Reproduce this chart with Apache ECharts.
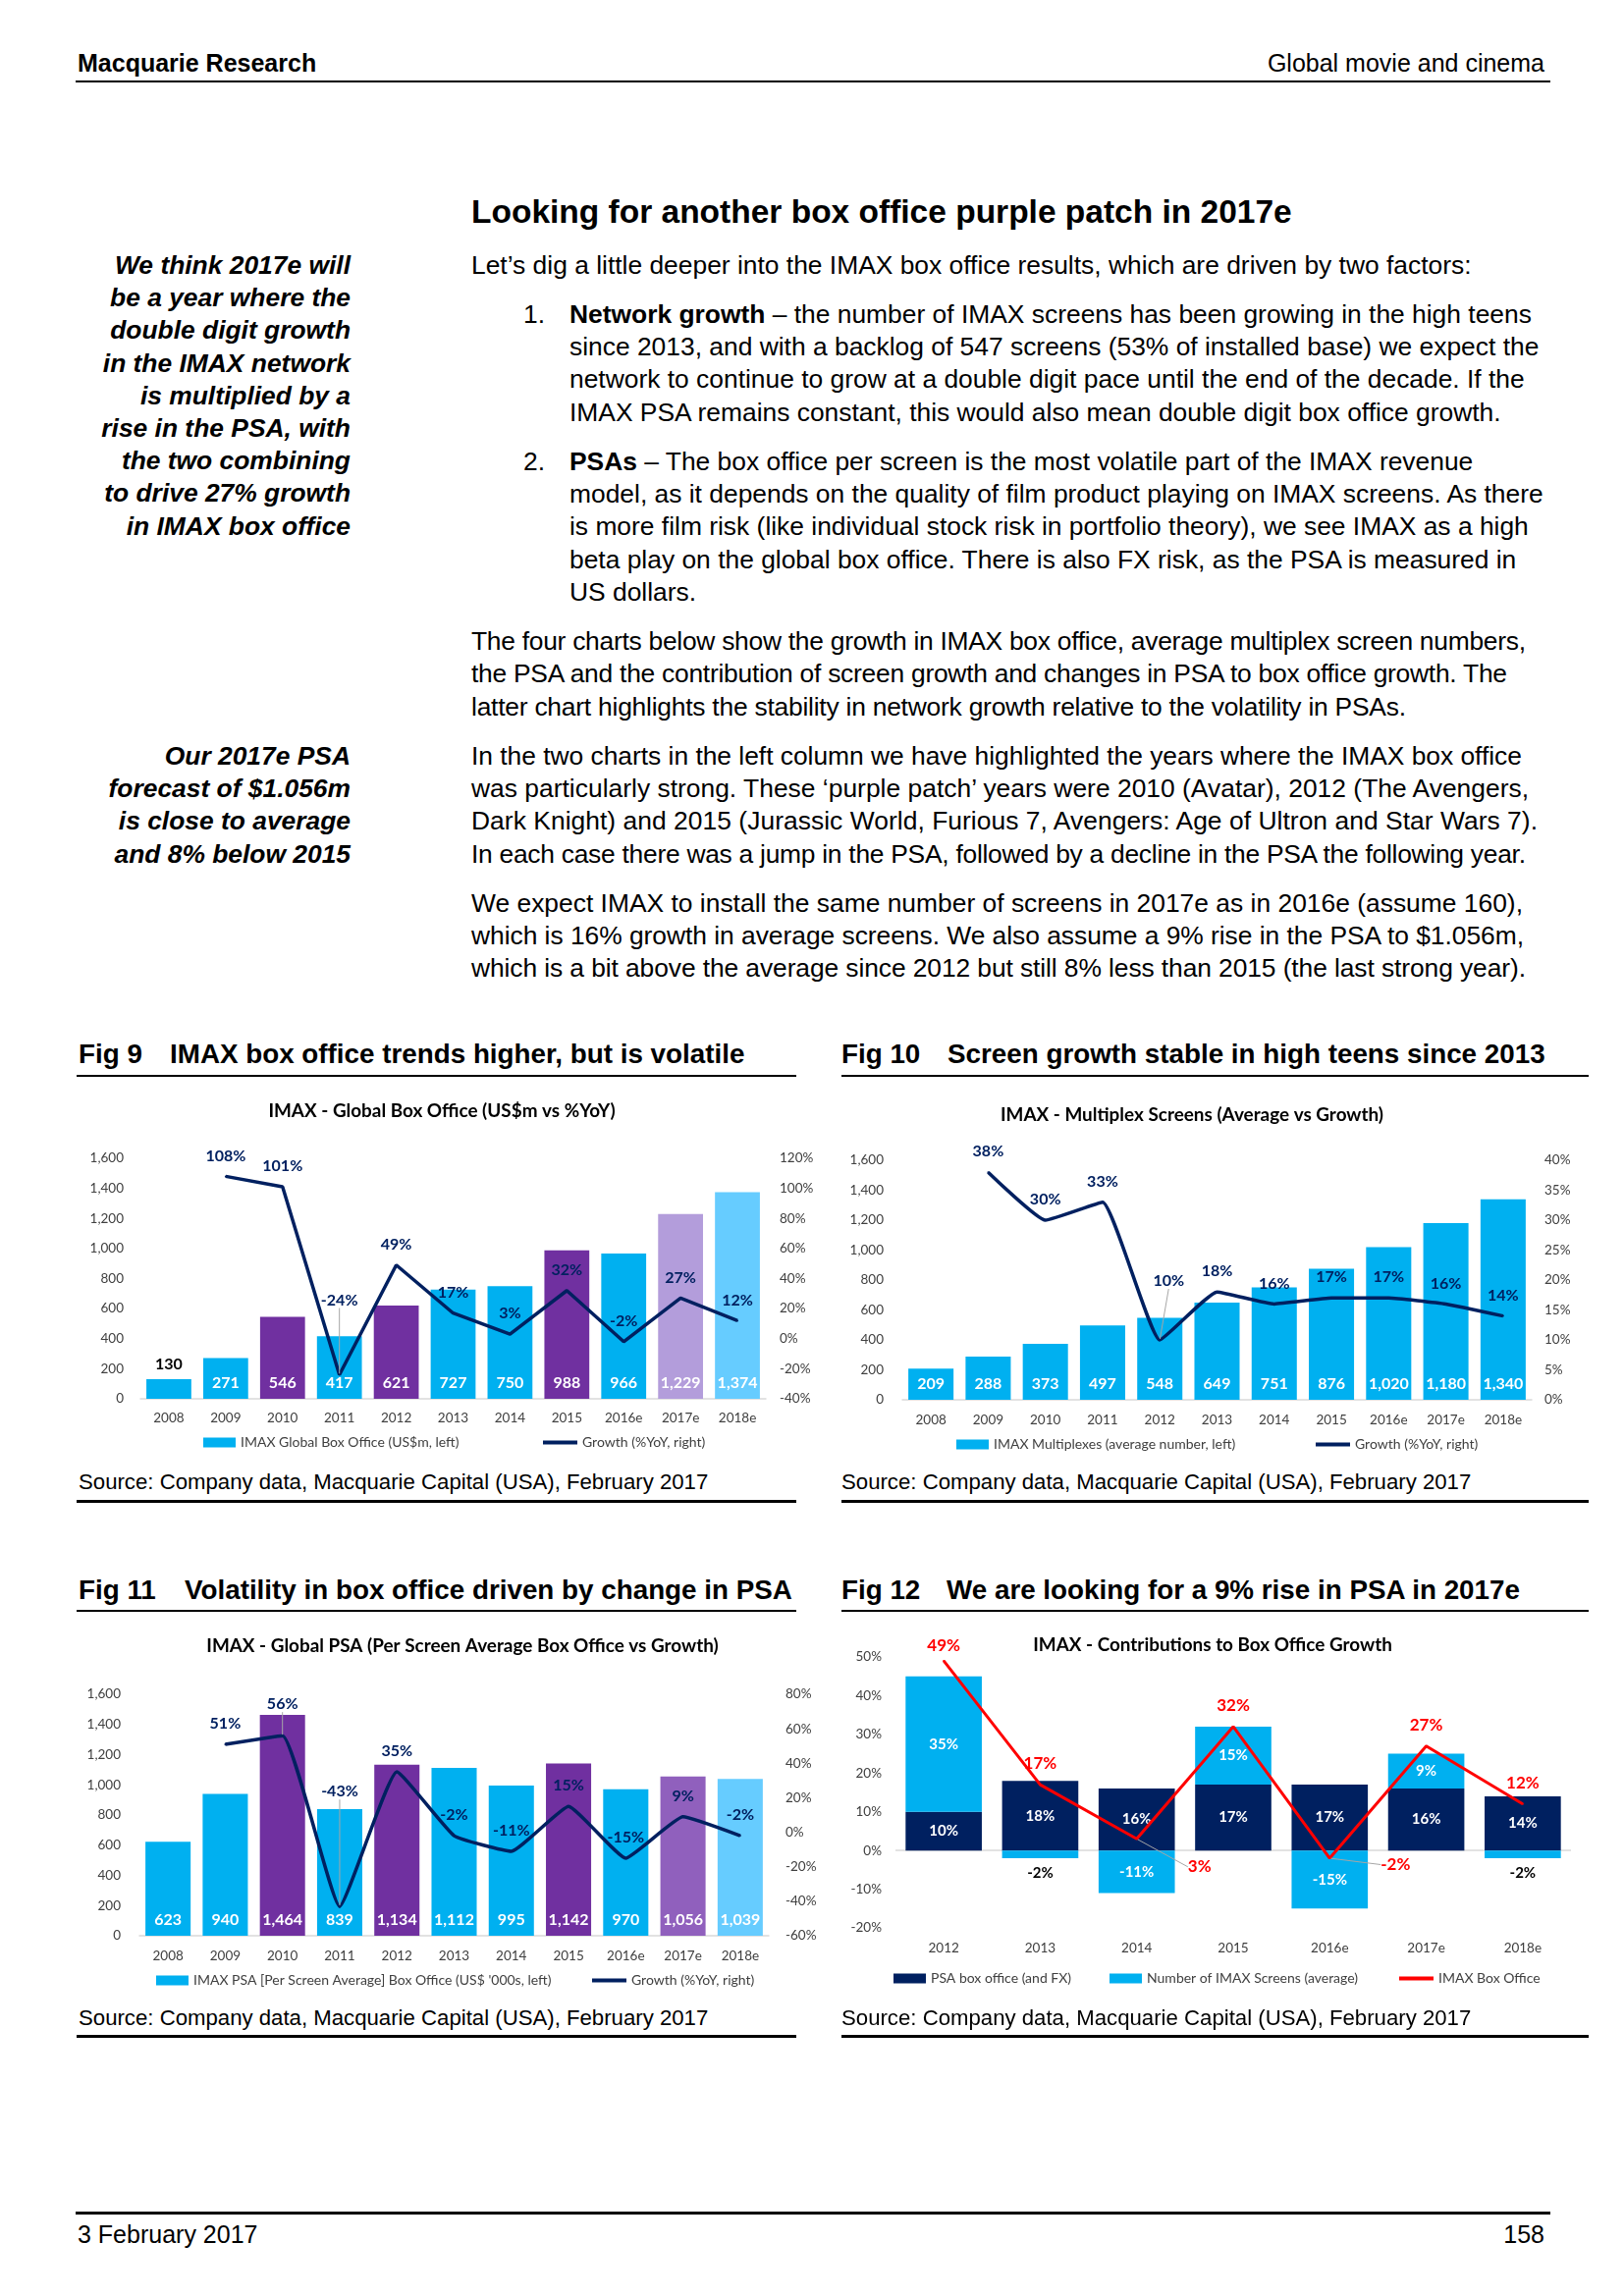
<!DOCTYPE html>
<html><head><meta charset="utf-8">
<script src="https://cdn.jsdelivr.net/npm/echarts@6/dist/echarts.min.js"></script>
<style>
html,body{margin:0;padding:0;background:#fff;overflow:hidden;}
#page{position:relative;width:1654px;height:2339px;background:#fff;font-family:'Liberation Sans',Arial,sans-serif;color:#000;overflow:hidden;}
.t{position:absolute;white-space:nowrap;line-height:34px;height:34px;font-size:26.4px;}
.side{font-weight:bold;font-style:italic;text-align:right;}
.rule{position:absolute;background:#000;}
.figt{position:absolute;font-size:27.8px;font-weight:bold;white-space:nowrap;line-height:34px;height:34px;}
.src{position:absolute;font-size:22.2px;white-space:nowrap;line-height:28px;height:28px;}
.hdr{position:absolute;font-size:25px;white-space:nowrap;line-height:34px;height:34px;}
.chart{position:absolute;}
</style></head>
<body>
<div id="page">
  <div class="hdr" style="left:79px;top:47px;font-weight:bold;">Macquarie Research</div>
  <div class="hdr" style="right:81px;top:47px;">Global movie and cinema</div>
  <div class="rule" style="left:77px;top:82px;width:1502px;height:2px;"></div>

  <div style="position:absolute;left:480px;top:194px;font-size:33.5px;font-weight:bold;line-height:44px;white-space:nowrap;">Looking for another box office purple patch in 2017e</div>

  <div id="textlayer"></div>

  <div class="figt" style="left:80px;top:1057px;">Fig 9</div>
  <div class="figt" style="left:173px;top:1057px;">IMAX box office trends higher, but is volatile</div>
  <div class="figt" style="left:857px;top:1057px;">Fig 10</div>
  <div class="figt" style="left:965px;top:1057px;">Screen growth stable in high teens since 2013</div>
  <div class="rule" style="left:78px;top:1095px;width:733px;height:2px;"></div>
  <div class="rule" style="left:857px;top:1095px;width:761px;height:2px;"></div>
  <div id="fig9" class="chart" style="left:78px;top:1105px;width:760px;height:390px;"></div>
  <div id="fig10" class="chart" style="left:857px;top:1105px;width:775px;height:390px;"></div>
  <div class="src" style="left:80px;top:1496px;">Source: Company data, Macquarie Capital (USA), February 2017</div>
  <div class="src" style="left:857px;top:1496px;">Source: Company data, Macquarie Capital (USA), February 2017</div>
  <div class="rule" style="left:78px;top:1528px;width:733px;height:2.5px;"></div>
  <div class="rule" style="left:857px;top:1528px;width:761px;height:2.5px;"></div>

  <div class="figt" style="left:80px;top:1603px;">Fig 11</div>
  <div class="figt" style="left:188px;top:1603px;">Volatility in box office driven by change in PSA</div>
  <div class="figt" style="left:857px;top:1603px;">Fig 12</div>
  <div class="figt" style="left:964px;top:1603px;">We are looking for a 9% rise in PSA in 2017e</div>
  <div class="rule" style="left:78px;top:1640px;width:733px;height:2px;"></div>
  <div class="rule" style="left:857px;top:1640px;width:761px;height:2px;"></div>
  <div id="fig11" class="chart" style="left:78px;top:1650px;width:760px;height:390px;"></div>
  <div id="fig12" class="chart" style="left:857px;top:1650px;width:775px;height:395px;"></div>
  <div class="src" style="left:80px;top:2042px;">Source: Company data, Macquarie Capital (USA), February 2017</div>
  <div class="src" style="left:857px;top:2042px;">Source: Company data, Macquarie Capital (USA), February 2017</div>
  <div class="rule" style="left:78px;top:2073px;width:733px;height:2.5px;"></div>
  <div class="rule" style="left:857px;top:2073px;width:761px;height:2.5px;"></div>

  <div class="rule" style="left:77px;top:2253px;width:1502px;height:3px;"></div>
  <div class="hdr" style="left:79px;top:2259px;">3 February 2017</div>
  <div class="hdr" style="right:81px;top:2259px;">158</div>
</div>
<script>
// ---------------- DATA ----------------
const years = ['2008','2009','2010','2011','2012','2013','2014','2015','2016e','2017e','2018e'];
const boxOffice = [130, 271, 546, 417, 621, 727, 750, 988, 966, 1229, 1374];
const boxOfficeGrowth = [null, 108, 101, -24, 49, 17, 3, 32, -2, 27, 12];
const screens = [209, 288, 373, 497, 548, 649, 751, 876, 1020, 1180, 1340];
const screensGrowth = [null, 38, 30, 33, 10, 18, 16, 17, 17, 16, 14];
const psa = [623, 940, 1464, 839, 1134, 1112, 995, 1142, 970, 1056, 1039];
const psaGrowth = [null, 51, 56, -43, 35, -2, -11, 15, -15, 9, -2];
const contribYears = ['2012','2013','2014','2015','2016e','2017e','2018e'];
const contribPSA = [10, 18, 16, 17, 17, 16, 14];
const contribScreens = [35, -2, -11, 15, -15, 9, -2];
const contribTotal = [49, 17, 3, 32, -2, 27, 12];
const countTicks = [0, 200, 400, 600, 800, 1000, 1200, 1400, 1600];
const fig9RightTicks = [-40, -20, 0, 20, 40, 60, 80, 100, 120];
const fig10RightTicks = [0, 5, 10, 15, 20, 25, 30, 35, 40];
const fig11RightTicks = [-60, -40, -20, 0, 20, 40, 60, 80];
const fig12Ticks = [-20, -10, 0, 10, 20, 30, 40, 50];

// ---------------- TEXT ----------------
// [left, centre y, html, right end (optional width fit)]
const bodyLines = [
  [480, 270, 'Let’s dig a little deeper into the IMAX box office results, which are driven by two factors:'],
  [580, 319.5, '<b>Network growth</b> – the number of IMAX screens has been growing in the high teens'],
  [580, 352.9, 'since 2013, and with a backlog of 547 screens (53% of installed base) we expect the'],
  [580, 386.3, 'network to continue to grow at a double digit pace until the end of the decade. If the'],
  [580, 419.7, 'IMAX PSA remains constant, this would also mean double digit box office growth.'],
  [580, 469.5, '<b>PSAs</b> – The box office per screen is the most volatile part of the IMAX revenue'],
  [580, 502.9, 'model, as it depends on the quality of film product playing on IMAX screens. As there'],
  [580, 536.3, 'is more film risk (like individual stock risk in portfolio theory), we see IMAX as a high'],
  [580, 569.7, 'beta play on the global box office. There is also FX risk, as the PSA is measured in'],
  [580, 603.1, 'US dollars.'],
  [480, 653, 'The four charts below show the growth in IMAX box office, average multiplex screen numbers,', 1554],
  [480, 686.4, 'the PSA and the contribution of screen growth and changes in PSA to box office growth. The', 1535],
  [480, 719.8, 'latter chart highlights the stability in network growth relative to the volatility in PSAs.', 1432],
  [480, 769.6, 'In the two charts in the left column we have highlighted the years where the IMAX box office', 1550],
  [480, 803, 'was particularly strong. These ‘purple patch’ years were 2010 (Avatar), 2012 (The Avengers,', 1557],
  [480, 836.4, 'Dark Knight) and 2015 (Jurassic World, Furious 7, Avengers: Age of Ultron and Star Wars 7).', 1566],
  [480, 869.8, 'In each case there was a jump in the PSA, followed by a decline in the PSA the following year.', 1554],
  [480, 919.6, 'We expect IMAX to install the same number of screens in 2017e as in 2016e (assume 160),', 1551],
  [480, 953, 'which is 16% growth in average screens. We also assume a 9% rise in the PSA to $1.056m,', 1552],
  [480, 986.4, 'which is a bit above the average since 2012 but still 8% less than 2015 (the last strong year).', 1554],
  [533, 319.5, '1.'],
  [533, 469.5, '2.']
];
const sideLines = [
  [270, 'We think 2017e will'], [303.2, 'be a year where the'], [336.4, 'double digit growth'],
  [369.6, 'in the IMAX network'], [402.8, 'is multiplied by a'], [436, 'rise in the PSA, with'],
  [469.2, 'the two combining'], [502.4, 'to drive 27% growth'], [535.6, 'in IMAX box office'],
  [769.6, 'Our 2017e PSA'], [803, 'forecast of $1.056m'], [836.4, 'is close to average'], [869.8, 'and 8% below 2015']
];
const layer = document.getElementById('textlayer');
bodyLines.forEach(([x, y, s, endX]) => {
  const d = document.createElement('div'); d.className = 't';
  d.style.left = x + 'px'; d.style.top = (y - 17) + 'px'; d.innerHTML = s; layer.appendChild(d);
  if (endX) {
    const w = d.getBoundingClientRect().width;
    const n = d.textContent.length - 1;
    let ls = ((endX - x) - w) / n;
    ls = Math.max(-0.5, Math.min(0.5, ls));
    d.style.letterSpacing = ls.toFixed(3) + 'px';
  }
});
sideLines.forEach(([y, s]) => {
  const d = document.createElement('div'); d.className = 't side';
  d.style.right = (1654 - 357) + 'px'; d.style.top = (y - 17) + 'px'; d.textContent = s; layer.appendChild(d);
});

// ---------------- CHARTS ----------------
const FONT = 'Lato, "Open Sans", sans-serif';
const C_CYAN = '#00B0F0', C_PURPLE = '#7030A0', C_NAVY = '#002060', C_LILAC = '#B39DDB',
      C_LIGHT = '#66CCFF', C_MAUVE = '#9060BD', C_RED = '#FF0000', C_AX = '#404040', C_GRID = '#D9D9D9';
const TITLE_SIZE = 18.9, AXIS_SIZE = 13.5, LEGEND_SIZE = 14;
const fmtNum = v => Number(v).toLocaleString('en-US');
const pct = v => v + '%';
const axisFromTicks = t => ({min: t[0], max: t[t.length - 1], interval: t[1] - t[0]});
const leader = {show: true, lineStyle: {color: '#A6A6A6', width: 1}};

function legendItem(name, left, top, isLine) {
  return {data: [name], left: left, top: top, padding: 0, icon: 'rect', selectedMode: false,
    itemWidth: isLine ? 35 : 33, itemHeight: isLine ? 4 : 10,
    textStyle: {fontFamily: FONT, fontSize: LEGEND_SIZE, color: C_AX}};
}
function titleOpt(text, x, top) {
  return {text: text, left: x, top: top, padding: 0, textAlign: 'center',
    textStyle: {fontFamily: FONT, fontSize: TITLE_SIZE, fontWeight: 'bold', color: '#000', lineHeight: 22}};
}

function comboOption(o) {
  const barData = o.bars.map((v, i) => {
    const d = {value: v, itemStyle: {color: o.colors[i]}};
    if (o.outsideBelow && v < o.outsideBelow) d.label = {position: 'top', color: '#000', distance: 7};
    return d;
  });
  const lineData = o.line.map((v, i) => o.shifts[i] ? {value: v, labelLine: leader} : v);
  const L = axisFromTicks(o.leftTicks), R = axisFromTicks(o.rightTicks);
  const axLabel = {color: C_AX, fontSize: AXIS_SIZE, fontFamily: FONT, showMinLabel: true, showMaxLabel: true};
  return {
    animation: false,
    textStyle: {fontFamily: FONT},
    title: titleOpt(o.title, o.titleX, o.titleTop),
    grid: Object.assign({containLabel: false, outerBoundsMode: 'none'}, o.grid),
    legend: [legendItem(o.barName, o.lg1, o.lgTop, false), legendItem(o.lineName, o.lg2, o.lgTop, true)],
    xAxis: {type: 'category', data: o.cats,
      axisLine: {show: true, lineStyle: {color: C_GRID, width: 1.5}}, axisTick: {show: false},
      axisLabel: {color: C_AX, fontSize: AXIS_SIZE, fontFamily: FONT, margin: o.mx, interval: 0}},
    yAxis: [
      Object.assign({type: 'value', position: 'left', axisLine: {show: false}, axisTick: {show: false}, splitLine: {show: false},
        axisLabel: Object.assign({formatter: fmtNum, margin: o.ml}, axLabel)}, L),
      Object.assign({type: 'value', position: 'right', axisLine: {show: false}, axisTick: {show: false}, splitLine: {show: false},
        axisLabel: Object.assign({formatter: pct, margin: o.mr}, axLabel)}, R)
    ],
    series: [
      {type: 'bar', name: o.barName, data: barData, barWidth: '79%', itemStyle: {color: C_CYAN},
        label: {show: true, position: 'insideBottom', distance: 8, color: '#fff', fontWeight: 'bold',
          fontSize: 16, fontFamily: FONT, formatter: p => fmtNum(p.value)}},
      {type: 'line', name: o.lineName, yAxisIndex: 1, data: lineData, smooth: o.smooth,
        symbol: 'circle', symbolSize: 2, showSymbol: true, z: 5,
        itemStyle: {color: C_NAVY}, lineStyle: {color: C_NAVY, width: 3.5},
        label: {show: true, position: 'top', distance: 12, color: C_NAVY, fontWeight: 'bold',
          fontSize: 16, fontFamily: FONT, formatter: p => p.value + '%'},
        labelLine: {show: false},
        labelLayout: p => { const s = o.shifts[p.dataIndex]; return s ? {dx: s[0], dy: s[1]} : {}; }}
    ]
  };
}

const fig9Colors = years.map(y => ({'2010': C_PURPLE, '2012': C_PURPLE, '2015': C_PURPLE, '2017e': C_LILAC, '2018e': C_LIGHT}[y] || C_CYAN));
const fig11Colors = years.map(y => ({'2010': C_PURPLE, '2012': C_PURPLE, '2015': C_PURPLE, '2017e': C_MAUVE, '2018e': C_LIGHT}[y] || C_CYAN));

echarts.init(document.getElementById('fig9')).setOption(comboOption({
  title: 'IMAX - Global Box Office (US$m vs %YoY)', titleX: 372, titleTop: 16,
  grid: {left: 65, right: 58, top: 75, bottom: 70},
  cats: years, bars: boxOffice, colors: fig9Colors, line: boxOfficeGrowth,
  barName: 'IMAX Global Box Office (US$m, left)', lineName: 'Growth (%YoY, right)',
  leftTicks: countTicks, rightTicks: fig9RightTicks, ml: 17, mr: 14, mx: 13,
  lg1: 129, lg2: 475, lgTop: 357.5, smooth: false, outsideBelow: 200,
  shifts: {3: [0, -55]}
}));

echarts.init(document.getElementById('fig10')).setOption(comboOption({
  title: 'IMAX - Multiplex Screens (Average vs Growth)', titleX: 357, titleTop: 20,
  grid: {left: 62, right: 72, top: 77, bottom: 69},
  cats: years, bars: screens, colors: years.map(() => C_CYAN), line: screensGrowth,
  barName: 'IMAX Multiplexes (average number, left)', lineName: 'Growth (%YoY, right)',
  leftTicks: countTicks, rightTicks: fig10RightTicks, ml: 19, mr: 13, mx: 14,
  lg1: 117, lg2: 483, lgTop: 359.5, smooth: 0.12, outsideBelow: 0,
  shifts: {4: [9, -39]}
}));

echarts.init(document.getElementById('fig11')).setOption(comboOption({
  title: 'IMAX - Global PSA (Per Screen Average Box Office vs Growth)', titleX: 393, titleTop: 16,
  grid: {left: 64, right: 55, top: 76, bottom: 68},
  cats: years, bars: psa, colors: fig11Colors, line: psaGrowth,
  barName: 'IMAX PSA [Per Screen Average] Box Office (US$ \'000s, left)', lineName: 'Growth (%YoY, right)',
  leftTicks: countTicks, rightTicks: fig11RightTicks, ml: 19, mr: 17, mx: 14,
  lg1: 81, lg2: 525, lgTop: 360.5, smooth: 0.12, outsideBelow: 0,
  shifts: {2: [0, -11], 3: [0, -96]}
}));

// Fig 12: stacked contributions
(function () {
  const A = axisFromTicks(fig12Ticks);
  const zeroColors = fig12Ticks.map(t => t === 0 ? C_GRID : 'rgba(0,0,0,0)');
  const segItem = v => {
    const d = {value: v};
    if (v < 0 && v > -5) d.label = {position: 'bottom', color: '#000', distance: 8};
    return d;
  };
  const shifts = {0: [0, 6], 2: [64, 50], 4: [67, 28]};
  const segLabel = {show: true, position: 'inside', color: '#fff', fontWeight: 'bold', fontSize: 15, fontFamily: FONT, formatter: p => p.value + '%'};
  echarts.init(document.getElementById('fig12')).setOption({
    animation: false,
    textStyle: {fontFamily: FONT},
    title: titleOpt('IMAX - Contributions to Box Office Growth', 378, 15),
    grid: {left: 55, right: 32, top: 38, bottom: 81, containLabel: false, outerBoundsMode: 'none'},
    legend: [legendItem('PSA box office (and FX)', 53, 358.5, false),
             legendItem('Number of IMAX Screens (average)', 273, 358.5, false),
             legendItem('IMAX Box Office', 568, 358.5, true)],
    xAxis: {type: 'category', data: contribYears, axisLine: {show: false, onZero: false}, axisTick: {show: false},
      axisLabel: {color: C_AX, fontSize: AXIS_SIZE, fontFamily: FONT, margin: 14, interval: 0}},
    yAxis: Object.assign({type: 'value', axisLine: {show: false}, axisTick: {show: false},
      splitLine: {show: true, lineStyle: {color: zeroColors, width: 1.5}},
      axisLabel: {formatter: pct, margin: 14, color: C_AX, fontSize: AXIS_SIZE, fontFamily: FONT, showMinLabel: true, showMaxLabel: true}}, A),
    series: [
      {type: 'bar', name: 'PSA box office (and FX)', stack: 'c', data: contribPSA.map(segItem), barWidth: '79%',
        itemStyle: {color: C_NAVY}, label: segLabel},
      {type: 'bar', name: 'Number of IMAX Screens (average)', stack: 'c', data: contribScreens.map(segItem), barWidth: '79%',
        itemStyle: {color: C_CYAN}, label: segLabel},
      {type: 'line', name: 'IMAX Box Office', data: contribTotal.map((v, i) => (i === 2 || i === 4) ? {value: v, labelLine: leader} : v),
        symbol: 'circle', symbolSize: 2, z: 5, itemStyle: {color: C_RED}, lineStyle: {color: C_RED, width: 3},
        label: {show: true, position: 'top', distance: 12, color: C_RED, fontWeight: 'bold', fontSize: 17, fontFamily: FONT, formatter: p => p.value + '%'},
        labelLine: {show: false},
        labelLayout: p => { const s = shifts[p.dataIndex]; return s ? {dx: s[0], dy: s[1]} : {}; }}
    ]
  });
})();
</script>
</body></html>
